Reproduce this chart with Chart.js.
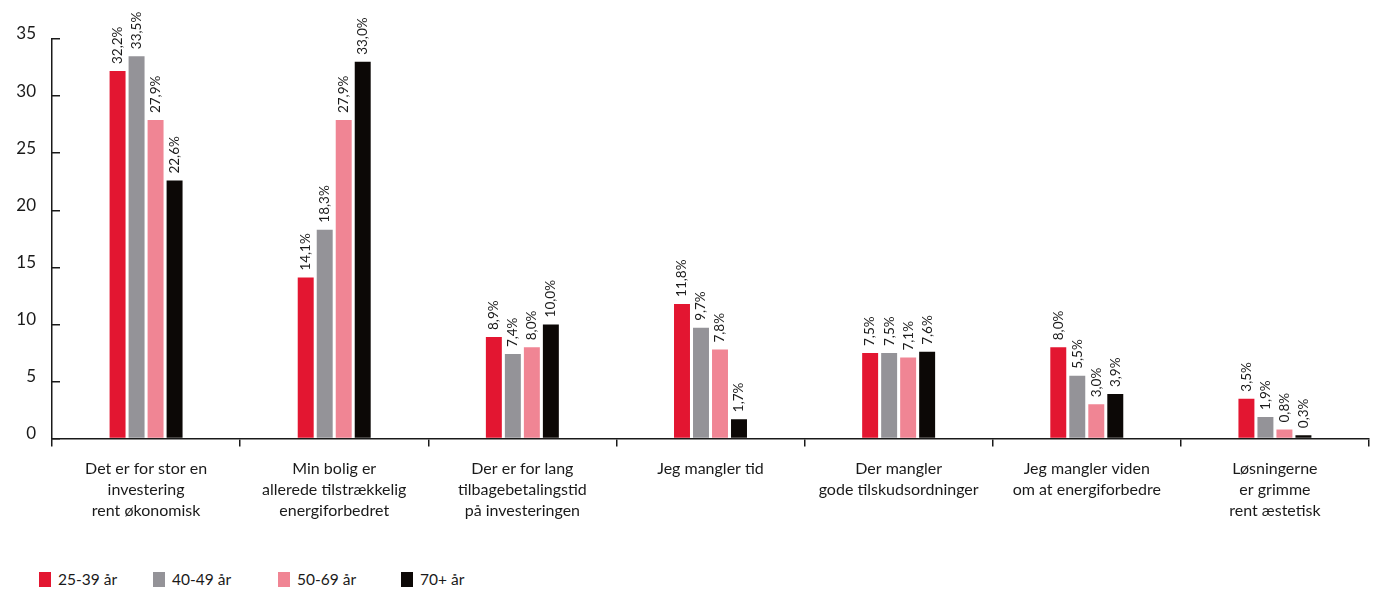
<!DOCTYPE html>
<html lang="da">
<head>
  <meta charset="UTF-8">
  <title>Barrierer for energiforbedring</title>
  <style>
    body {
      margin: 0;
      background: #ffffff;
      font-family: 'Lato', 'Open Sans', Arial, sans-serif;
    }
    #wrap {
      position: relative;
      width: 1377px;
      height: 589px;
    }
    #chart-box {
      position: absolute;
      left: 0;
      top: 0;
      width: 1377px;
      height: 543px;
    }
    #legend {
      position: absolute;
      left: 39px;
      top: 570px;
      display: flex;
      font-size: 15.5px;
      color: #1a1a1a;
    }
    .item {
      display: flex;
      align-items: center;
    }
    .swatch {
      width: 12px;
      height: 15px;
      margin-right: 7px;
    }
  </style>
</head>
<body>
  <div id="wrap">
    <div id="chart-box"><canvas id="barChart"></canvas></div>
    <div id="legend"></div>
  </div>

  <script src="https://cdn.jsdelivr.net/npm/chart.js@4.4.3/dist/chart.umd.min.js"></script>
  <script>
    // Categories (already wrapped into lines like the original)
    const categories = [
      ['Det er for stor en', 'investering', 'rent økonomisk'],
      ['Min bolig er', 'allerede tilstrækkelig', 'energiforbedret'],
      ['Der er for lang', 'tilbagebetalingstid', 'på investeringen'],
      ['Jeg mangler tid'],
      ['Der mangler', 'gode tilskudsordninger'],
      ['Jeg mangler viden', 'om at energiforbedre'],
      ['Løsningerne', 'er grimme', 'rent æstetisk']
    ];

    const seriesNames = ['25-39 år', '40-49 år', '50-69 år', '70+ år'];
    const seriesColors = ['#e31631', '#949398', '#f08594', '#0c0806'];

    const age25to39 = [32.2, 14.1, 8.9, 11.8, 7.5, 8.0, 3.5];
    const age40to49 = [33.5, 18.3, 7.4, 9.7, 7.5, 5.5, 1.9];
    const age50to69 = [27.9, 27.9, 8.0, 7.8, 7.1, 3.0, 0.8];
    const age70plus = [22.6, 33.0, 10.0, 1.7, 7.6, 3.9, 0.3];

    const yTicks = [0, 5, 10, 15, 20, 25, 30, 35];

    const seriesValues = [age25to39, age40to49, age50to69, age70plus];

    // Rotated value labels above each bar, e.g. "32,2%"
    const valueLabels = {
      id: 'valueLabels',
      afterDatasetsDraw(chart) {
        const ctx = chart.ctx;
        ctx.save();
        ctx.font = '13.5px Lato, "Open Sans", Arial, sans-serif';
        ctx.fillStyle = '#1a1a1a';
        ctx.textAlign = 'left';
        ctx.textBaseline = 'middle';
        chart.data.datasets.forEach((ds, i) => {
          chart.getDatasetMeta(i).data.forEach((bar, j) => {
            const txt = ds.data[j].toFixed(1).replace('.', ',') + '%';
            ctx.save();
            ctx.translate(bar.x, bar.y - 7);
            ctx.rotate(-Math.PI / 2);
            ctx.fillText(txt, 0, 0);
            ctx.restore();
          });
        });
        ctx.restore();
      }
    };

    const ctx = document.getElementById('barChart').getContext('2d');
    const chart = new Chart(ctx, {
      type: 'bar',
      data: {
        labels: categories,
        datasets: seriesNames.map((name, i) => ({
          label: name,
          data: seriesValues[i],
          backgroundColor: seriesColors[i],
          borderWidth: 0
        }))
      },
      options: {
        responsive: true,
        maintainAspectRatio: false,
        animation: false,
        categoryPercentage: 0.404,
        barPercentage: 0.84,
        layout: {
          padding: { top: 39, right: 8, bottom: 10, left: 0 }
        },
        scales: {
          x: {
            grid: {
              display: true,
              drawOnChartArea: false,
              offset: true,
              tickLength: 8,
              color: '#1a1a1a',
              lineWidth: 1.5
            },
            border: { color: '#1a1a1a', width: 1.5 },
            ticks: {
              color: '#1a1a1a',
              padding: 12,
              maxRotation: 0,
              autoSkip: false,
              font: { family: 'Lato, "Open Sans", Arial, sans-serif', size: 16, lineHeight: 1.3 }
            }
          },
          y: {
            min: 0,
            max: 35,
            afterFit(scale) { scale.width = 52; },
            afterBuildTicks(scale) { scale.ticks = yTicks.map(v => ({ value: v })); },
            grid: {
              display: true,
              drawOnChartArea: false,
              tickLength: -8,
              color: '#1a1a1a',
              lineWidth: 1.5
            },
            border: { color: '#1a1a1a', width: 1.5 },
            ticks: {
              color: '#1a1a1a',
              padding: 24,
              labelOffset: -5,
              font: { family: 'Lato, "Open Sans", Arial, sans-serif', size: 17 }
            }
          }
        },
        plugins: {
          legend: { display: false },
          tooltip: { enabled: false }
        }
      },
      plugins: [valueLabels]
    });

    // Legend below the chart
    const legendWidths = [114, 125, 123, 100];
    const legend = document.getElementById('legend');
    seriesNames.forEach((name, i) => {
      const item = document.createElement('div');
      item.className = 'item';
      item.style.width = legendWidths[i] + 'px';
      item.innerHTML = '<span class="swatch" style="background:' + seriesColors[i] + '"></span>' + name;
      legend.appendChild(item);
    });
  </script>
</body>
</html>
